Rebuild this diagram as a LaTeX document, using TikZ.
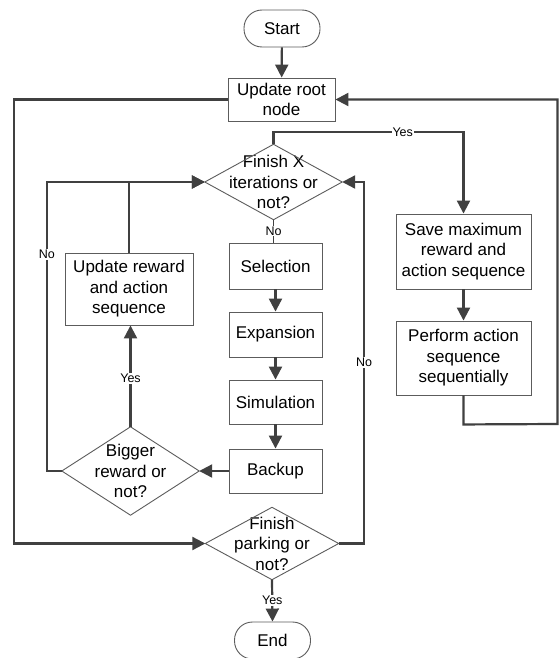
\documentclass[tikz,border=0pt]{standalone}
\usepackage{fontspec}
\setmainfont{Liberation Sans}
\usetikzlibrary{arrows.meta,calc}
\definecolor{linegray}{HTML}{404040}
\definecolor{boxgray}{HTML}{5C5C5C}
\tikzset{
  base/.style={font=\fontsize{17}{20.5}\selectfont, align=center, inner sep=0pt},
  terminal/.style={base, draw=boxgray, line width=0.9pt, fill=white, rounded corners=18pt,
                   minimum width=76pt, minimum height=37pt},
  process/.style={base, draw=boxgray, line width=0.9pt, fill=white},
  decision/.style={base},
  shapeline/.style={draw=boxgray, line width=0.9pt},
  conn/.style={draw=linegray, line width=2.2pt, -{Triangle[length=13pt,width=13pt]}},
  thinconn/.style={draw=linegray, line width=1pt},
  lbl/.style={font=\fontsize{12.5}{14}\selectfont, fill=white, inner sep=1pt, text=black}
}
\begin{document}
\begin{tikzpicture}[x=1pt,y=-1pt]
\useasboundingbox (0,0) rectangle (559,658);
\fill[white] (0,0) rectangle (559,658);

% nodes
\node[terminal] (start) at (282,28.5) {Start};
\node[process, minimum width=107pt, minimum height=43pt] (root) at (281.5,99.5) {Update root\\node};
\node[decision, minimum width=137pt, minimum height=75pt] (fx) at (273.5,182) {Finish X\\iterations or\\not?};
\node[process, minimum width=93pt, minimum height=46pt] (sel) at (275.5,266) {Selection};
\node[process, minimum width=93pt, minimum height=45pt] (exp) at (275.5,334.5) {Expansion};
\node[process, minimum width=93pt, minimum height=44pt] (sim) at (275.5,402) {Simulation};
\node[process, minimum width=93pt, minimum height=44pt] (bak) at (275.5,471) {Backup};
\node[process, minimum width=128pt, minimum height=72pt] (upd) at (129,289) {Update reward\\and action\\sequence};
\node[decision, minimum width=137pt, minimum height=88pt] (br) at (130.5,471) {Bigger\\reward or\\not?};
\node[process, minimum width=135pt, minimum height=75pt] (save) at (463.5,251.5) {Save maximum\\reward and\\action sequence};
\node[process, minimum width=135pt, minimum height=74pt] (perf) at (463.5,358) {Perform action\\sequence\\sequentially};
\node[decision, minimum width=133pt, minimum height=72pt] (fp) at (272,543.5) {Finish\\parking or\\not?};
\node[terminal] (endn) at (272.5,640.5) {End};

% diamond outlines
\foreach \d in {fx,br,fp}
  \draw[shapeline] (\d.north) -- (\d.east) -- (\d.south) -- (\d.west) -- cycle;

% main flow
\draw[conn] (start) -- (root);
\draw[conn] (fx.north) -- ++(0,-12) -| node[pos=0.34, lbl] {Yes} (save.north);
\draw[conn] (save) -- (perf);
\draw[conn] (perf.south) -- ++(0,29) -- (557.5,424) |- (root.east);
\draw[conn] (root.west) -- (14,99.5) |- (fp.west);

\draw[thinconn] (fx.south) -- node[lbl] {No} (fx.south |- sel.north);
\draw[conn] (sel) -- (exp);
\draw[conn] (exp) -- (sim);
\draw[conn] (sim) -- (bak);
\draw[conn] (bak.west) -- (br.east);
\draw[conn] (br.north) -- node[pos=0.48, lbl] {Yes} (br.north |- upd.south);
\draw[conn] (upd.north) |- (fx.west);
\draw[conn] (br.west) -- ++(-15,0) |- node[pos=0.375, lbl] {No} (fx.west);
\draw[conn] (fp.east) -- (364,543.5) |- node[pos=0.25, lbl] {No} (fx.east);
\draw[conn] (fp.south) -- node[pos=0.5, lbl] {Yes} (endn.north);
\end{tikzpicture}
\end{document}
